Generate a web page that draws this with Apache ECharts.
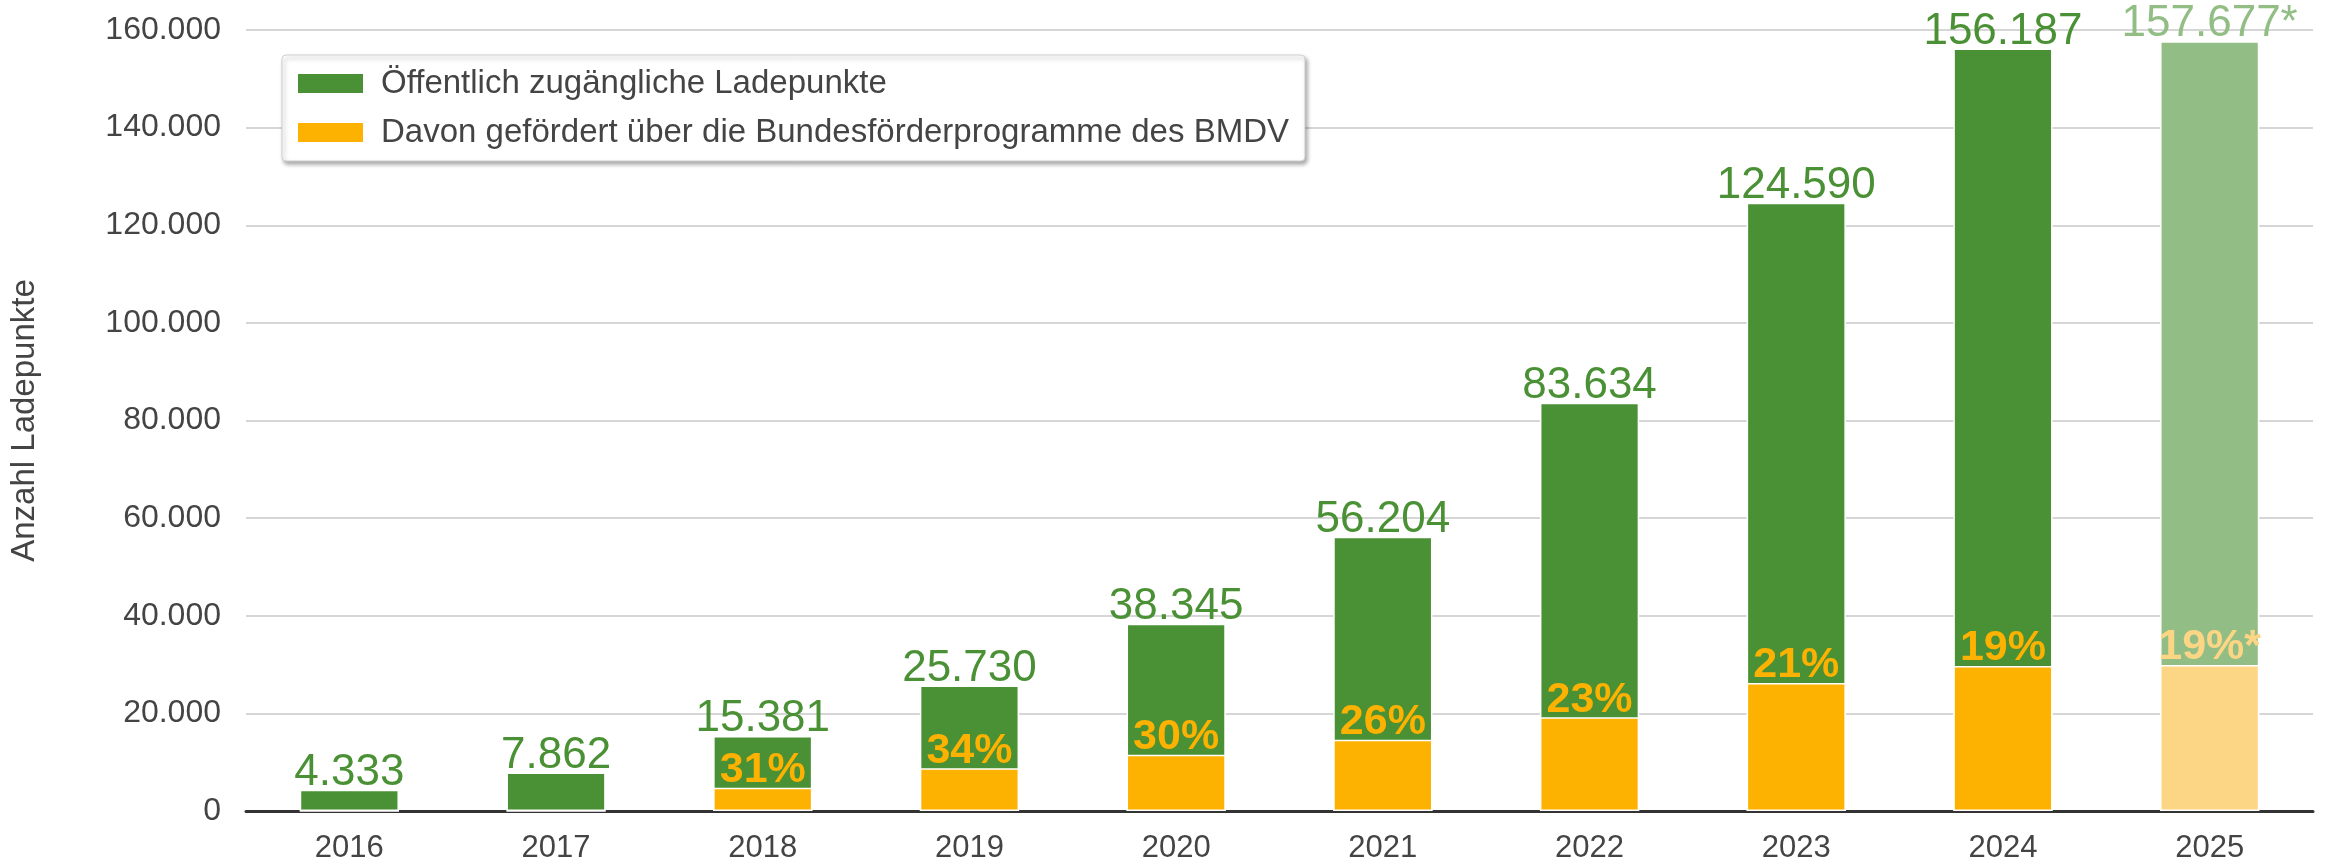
<!DOCTYPE html>
<html>
<head>
<meta charset="utf-8">
<script src="https://cdn.jsdelivr.net/npm/echarts@6/dist/echarts.min.js"></script>
<style>
  html, body { margin: 0; padding: 0; background: #fff; }
  #chart { width: 2329px; height: 865px; }
</style>
</head>
<body>
<div id="chart"></div>
<script>
// Ladepunkte gesamt und davon gefördert
const years = ['2016', '2017', '2018', '2019', '2020', '2021', '2022', '2023', '2024', '2025'];
const totalPoints = [4333, 7862, 15381, 25730, 38345, 56204, 83634, 124590, 156187, 157677];
const totalLabels = ['4.333', '7.862', '15.381', '25.730', '38.345', '56.204', '83.634', '124.590', '156.187', '157.677*'];
const fundedPoints = [0, 0, 4770, 8750, 11500, 14600, 19200, 26200, 29700, 29900];
const fundedLabels = ['', '', '31%', '34%', '30%', '26%', '23%', '21%', '19%', '19%*'];
const yTicks = [0, 20000, 40000, 60000, 80000, 100000, 120000, 140000, 160000];

const GREEN = '#4a9034';
const GREEN_LIGHT = '#92bd84';
const ORANGE = '#fdb100';
const ORANGE_LIGHT = '#fdd685';
const FONT = 'Liberation Sans, Arial, sans-serif';

function fmt(v) {
    return String(v).replace(/\B(?=(\d{3})+(?!\d))/g, '.');
}

const chart = echarts.init(document.getElementById('chart'));

const greenData = totalPoints.map((v, i) => {
    const last = i === years.length - 1;
    return {
        value: v,
        itemStyle: { color: last ? GREEN_LIGHT : GREEN },
        label: { color: last ? GREEN_LIGHT : GREEN }
    };
});
const orangeData = fundedPoints.map((v, i) => {
    const last = i === years.length - 1;
    return {
        value: v,
        itemStyle: { color: last ? ORANGE_LIGHT : ORANGE },
        label: { color: last ? ORANGE_LIGHT : ORANGE }
    };
});

const option = {
    animation: false,
    textStyle: { fontFamily: FONT },
    legend: {
        show: true,
        orient: 'vertical',
        left: 282,
        top: 55,
        padding: [12, 16, 12, 14],
        icon: 'rect',
        itemWidth: 67,
        itemHeight: 21,
        itemGap: 16,
        backgroundColor: '#fff',
        borderColor: '#cfcfcf',
        borderWidth: 1,
        borderRadius: 4,
        shadowColor: 'rgba(0,0,0,0.35)',
        shadowBlur: 4,
        shadowOffsetX: 2,
        shadowOffsetY: 3,
        textStyle: {
            color: '#444',
            fontSize: 33,
            fontFamily: FONT,
            padding: [0, 0, 0, 12]
        },
        data: ['Öffentlich zugängliche Ladepunkte', 'Davon gefördert über die Bundesförderprogramme des BMDV']
    },
    grid: {
        left: 245,
        right: 16,
        top: 30,
        bottom: 54
    },
    xAxis: {
        type: 'category',
        data: years,
        axisLine: { lineStyle: { color: '#333', width: 3 } },
        axisTick: { show: false },
        axisLabel: { color: '#444', fontSize: 31, margin: 22, fontFamily: FONT }
    },
    yAxis: {
        type: 'value',
        min: 0,
        max: yTicks[yTicks.length - 1],
        interval: yTicks[1] - yTicks[0],
        name: 'Anzahl Ladepunkte',
        nameLocation: 'middle',
        nameGap: 205,
        nameTextStyle: { color: '#444', fontSize: 33, fontFamily: FONT },
        axisLine: { show: false },
        axisTick: { show: false },
        axisLabel: {
            color: '#444',
            fontSize: 32,
            margin: 25,
            fontFamily: FONT,
            formatter: v => fmt(v)
        },
        splitLine: { lineStyle: { color: '#d6d6d6', width: 2 } }
    },
    series: [
        {
            name: 'Öffentlich zugängliche Ladepunkte',
            type: 'bar',
            data: greenData,
            barWidth: '48%',
            barGap: '-100%',
            itemStyle: { color: GREEN, borderColor: '#fff', borderWidth: 1.5 },
            label: {
                show: true,
                position: 'top',
                distance: 1,
                offset: [0, 6],
                fontSize: 44,
                fontFamily: FONT,
                formatter: p => totalLabels[p.dataIndex]
            },
            z: 2
        },
        {
            name: 'Davon gefördert über die Bundesförderprogramme des BMDV',
            type: 'bar',
            data: orangeData,
            barWidth: '48%',
            itemStyle: { color: ORANGE, borderColor: '#fff', borderWidth: 1.5 },
            label: {
                show: true,
                position: 'top',
                distance: 1,
                offset: [0, 5],
                fontSize: 43,
                fontWeight: 'bold',
                fontFamily: FONT,
                formatter: p => fundedLabels[p.dataIndex]
            },
            z: 3
        }
    ]
};

chart.setOption(option);
</script>
</body>
</html>
